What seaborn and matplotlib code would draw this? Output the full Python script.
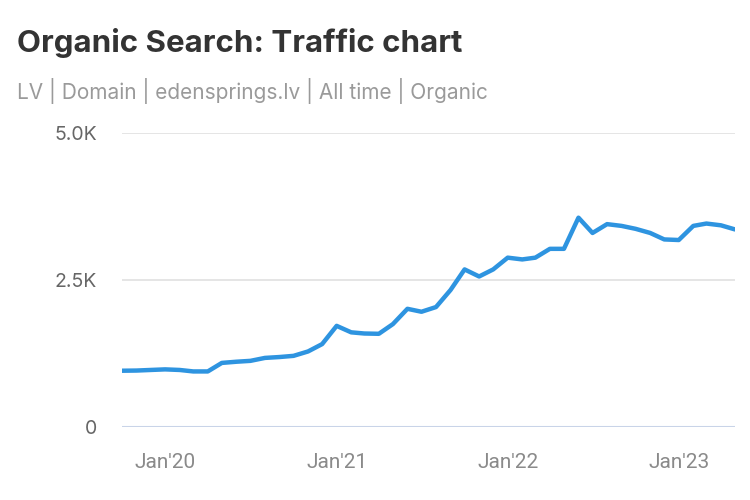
import pandas as pd
import seaborn as sns
import matplotlib.pyplot as plt
from matplotlib.ticker import FixedLocator

# monthly organic traffic, Oct 2019 - May 2023
months = pd.date_range("2019-10-01", "2023-05-01", freq="MS")
traffic = [957, 960, 970, 980, 970, 945, 945, 1090, 1110, 1125, 1175, 1190,
           1210, 1285, 1410, 1720, 1610, 1590, 1585, 1750, 2010, 1960, 2040, 2330,
           2680, 2560, 2680, 2880, 2850, 2880, 3030, 3030, 3560, 3300, 3450, 3420,
           3370, 3300, 3190, 3180, 3420, 3460, 3430, 3360]
y_ticks = [0, 2500, 5000]
y_labels = ["0", "2.5K", "5.0K"]
x_ticks = ["2020-01-01", "2021-01-01", "2022-01-01", "2023-01-01"]
x_labels = ["Jan'20", "Jan'21", "Jan'22", "Jan'23"]

df = pd.DataFrame({"month": months, "traffic": traffic})

sns.set_style("white")
plt.rcParams["font.family"] = ["Inter", "DejaVu Sans"]

fig = plt.figure(figsize=(7.5, 5), dpi=100)
ax = fig.add_axes([0.1627, 0.146, 0.8173, 0.588])

for v in y_ticks[1:]:
    ax.axhline(v, color="#e3e3e3", lw=1.3, zorder=0)
ax.axhline(0, color="#c9d4e8", lw=1.5, zorder=0)

sns.lineplot(data=df, x="month", y="traffic", ax=ax, color="#2e94e0",
             lw=3.2, solid_joinstyle="round", solid_capstyle="round")

ax.set_xlim(months[0], months[-1])
ax.set_ylim(0, 5000)
ax.yaxis.set_major_locator(FixedLocator(y_ticks))
ax.set_yticklabels(y_labels)
ax.set_xticks(pd.to_datetime(x_ticks))
ax.set_xticklabels(x_labels, family=["Roboto", "DejaVu Sans"])
ax.tick_params(axis="y", length=0, pad=18, labelsize=14, labelcolor="#666666")
ax.tick_params(axis="x", length=0, pad=19, labelsize=15, labelcolor="#8a8a8a")
ax.set_xlabel("")
ax.set_ylabel("")
sns.despine(ax=ax, left=True, bottom=True)

fig.text(0.0227, 0.913, "Organic Search: Traffic chart", fontsize=22.5,
         fontweight="bold", color="#333333", va="center")
fig.text(0.0227, 0.817, "LV | Domain | edensprings.lv | All time | Organic",
         fontsize=15, color="#9a9a9a", va="center")

fig.savefig("out.png", dpi=100)
